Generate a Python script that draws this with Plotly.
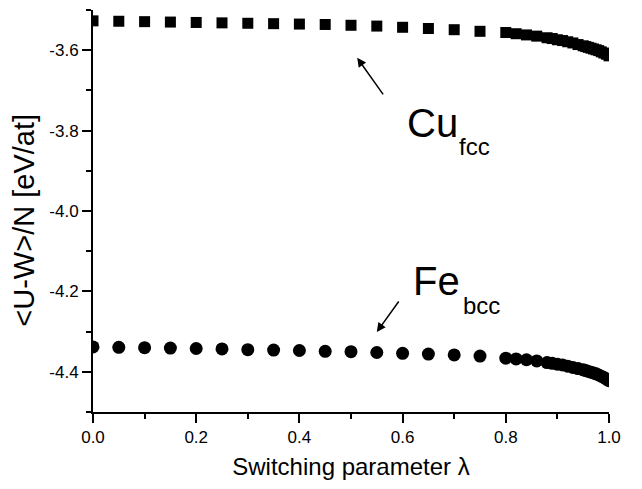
import plotly.graph_objects as go

# ---- data ----
lam_sparse = [0.0, 0.05, 0.10, 0.15, 0.20, 0.25, 0.30, 0.35, 0.40, 0.45,
              0.50, 0.55, 0.60, 0.65, 0.70, 0.75]
lam_dense = [0.80, 0.82, 0.84, 0.86, 0.88, 0.89, 0.90, 0.91, 0.92, 0.93,
             0.94, 0.95, 0.955, 0.96, 0.965, 0.97, 0.975, 0.98, 0.985,
             0.99, 0.995, 1.0]

cu_sparse = [-3.527, -3.528, -3.529, -3.530, -3.531, -3.532, -3.533, -3.534,
             -3.535, -3.536, -3.538, -3.540, -3.543, -3.546, -3.549, -3.553]
cu_dense = [-3.556, -3.559, -3.562, -3.565, -3.569, -3.571, -3.574, -3.576,
            -3.579, -3.582, -3.586, -3.589, -3.591, -3.593, -3.595, -3.597,
            -3.599, -3.601, -3.604, -3.607, -3.610, -3.614]

fe_sparse = [-4.338, -4.339, -4.340, -4.341, -4.342, -4.343, -4.345, -4.346,
             -4.347, -4.349, -4.350, -4.352, -4.354, -4.356, -4.358, -4.361]
fe_dense = [-4.366, -4.368, -4.370, -4.373, -4.377, -4.379, -4.381, -4.383,
            -4.386, -4.389, -4.392, -4.395, -4.397, -4.399, -4.401, -4.403,
            -4.405, -4.408, -4.411, -4.414, -4.418, -4.422]

xtick_vals = [0.0, 0.2, 0.4, 0.6, 0.8, 1.0]
xtick_labels = ["0.0", "0.2", "0.4", "0.6", "0.8", "1.0"]
ytick_vals = [-3.6, -3.8, -4.0, -4.2, -4.4]
ytick_labels = ["-3.6", "-3.8", "-4.0", "-4.2", "-4.4"]

lam = lam_sparse + lam_dense
cu = cu_sparse + cu_dense
fe = fe_sparse + fe_dense

FONT = "Liberation Sans, Arial, sans-serif"

fig = go.Figure()
fig.add_trace(go.Scatter(x=lam, y=cu, mode="markers", name="Cu fcc",
                         marker=dict(symbol="square", size=11, color="black",
                                     line=dict(width=0))))
fig.add_trace(go.Scatter(x=lam, y=fe, mode="markers", name="Fe bcc",
                         marker=dict(symbol="circle", size=13, color="black",
                                     line=dict(width=0))))

axis_common = dict(showline=True, linecolor="black", linewidth=2,
                   ticks="outside", ticklen=9, tickwidth=2, tickcolor="black",
                   showgrid=False, zeroline=False, mirror=False,
                   tickfont=dict(family=FONT, size=17, color="black"))

fig.update_xaxes(range=[0, 1], tickvals=xtick_vals, ticktext=xtick_labels,
                 minor=dict(dtick=0.1, tick0=0, ticks="outside", ticklen=5,
                            tickwidth=2, tickcolor="black", showgrid=False),
                 title=dict(text="Switching parameter λ",
                            font=dict(family=FONT, size=24, color="black"),
                            standoff=12),
                 **axis_common)
fig.update_yaxes(range=[-4.5, -3.5], tickvals=ytick_vals, ticktext=ytick_labels,
                 minor=dict(dtick=0.1, tick0=-3.5, ticks="outside", ticklen=5,
                            tickwidth=2, tickcolor="black", showgrid=False),
                 **axis_common)

annotations = [
    # y-axis title
    dict(x=-0.134, y=0.478, xref="paper", yref="paper",
         text="&lt;U-W&gt;/N [eV/at]", textangle=-90, showarrow=False,
         xanchor="center", yanchor="middle",
         font=dict(family=FONT, size=29, color="black")),
    # arrows
    dict(x=0.512, y=-3.619, xref="x", yref="y", ax=27, ay=38, text="",
         showarrow=True, arrowhead=2, arrowsize=1.2, arrowwidth=1.5,
         arrowcolor="black"),
    dict(x=0.550, y=-4.301, xref="x", yref="y", ax=23, ay=-32, text="",
         showarrow=True, arrowhead=2, arrowsize=1.2, arrowwidth=1.5,
         arrowcolor="black"),
    # labels
    dict(x=0.605, y=-3.780, xref="x", yref="y", text="Cu", showarrow=False,
         xanchor="left", yanchor="middle",
         font=dict(family=FONT, size=40, color="black")),
    dict(x=0.705, y=-3.840, xref="x", yref="y", text="fcc", showarrow=False,
         xanchor="left", yanchor="middle",
         font=dict(family=FONT, size=24, color="black")),
    dict(x=0.616, y=-4.175, xref="x", yref="y", text="Fe", showarrow=False,
         xanchor="left", yanchor="middle",
         font=dict(family=FONT, size=40, color="black")),
    dict(x=0.713, y=-4.235, xref="x", yref="y", text="bcc", showarrow=False,
         xanchor="left", yanchor="middle",
         font=dict(family=FONT, size=24, color="black")),
]

fig.update_layout(width=642, height=489, showlegend=False,
                  plot_bgcolor="white", paper_bgcolor="white",
                  margin=dict(l=93, r=33, t=10, b=77),
                  annotations=annotations,
                  font=dict(family=FONT, color="black"))

fig.write_html("out.html")
